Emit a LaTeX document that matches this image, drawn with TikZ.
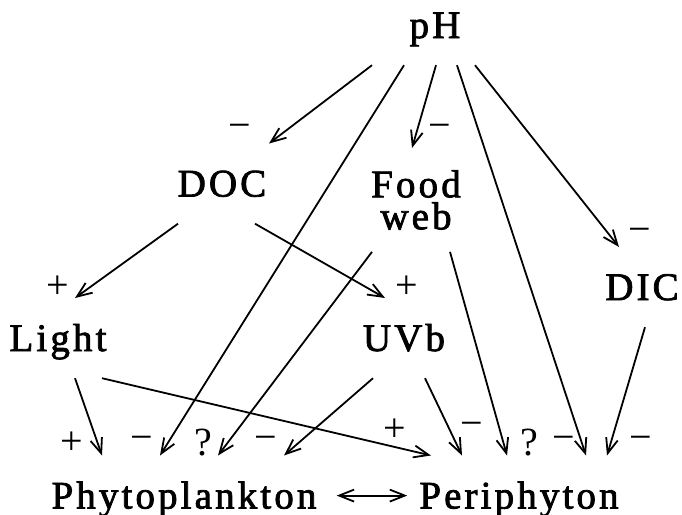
\documentclass[tikz,border=0pt]{standalone}
\usepackage{fontspec}
\setmainfont{Liberation Serif}[LetterSpace=8, FakeBold=2]
\newfontfamily\signfont{Liberation Serif}
\usetikzlibrary{arrows.meta}
\tikzset{
    factor-node/.style = {inner xsep=0pt, inner ysep=27pt, text height=25.8pt, text depth=0pt, anchor=base, font=\fontsize{39}{32}\selectfont},
    food-node/.style = {inner xsep=0pt, inner ysep=22pt, align=center, anchor=north, font=\fontsize{39}{32}\selectfont},
    sign-label/.style = {inner sep=0pt, font=\signfont\fontsize{40}{40}\selectfont},
    effect-arrow/.style = {-{Straight Barb[length=15pt, width=12pt]}, line width=1.8pt},
}

\begin{document}
\begin{tikzpicture}[x=1pt, y=-1pt]
\useasboundingbox (0,0) rectangle (682,514);

\node[factor-node] (ph) at (435,38) {pH};
\node[factor-node] (doc) at (222,196.5) {DOC};
\node[food-node] (food) at (416,148) {Food\\web};
\node[factor-node] (light) at (58,351) {Light};
\node[factor-node] (uvb) at (404,351) {UVb};
\node[factor-node] (dic) at (642,300) {DIC};
\node[factor-node] (phyto) at (184,508.5) {Phytoplankton};
\node[factor-node] (peri) at (519,508.5) {Periphyton};

\draw[effect-arrow] ([xshift=-63pt]ph.south) -- ([xshift=47pt]doc.north);
\draw[effect-arrow] ([xshift=-31pt]ph.south) -- ([xshift=-24pt]phyto.north);
\draw[effect-arrow] ([xshift=1pt]ph.south) -- ([xshift=-4pt]food.north);
\draw[effect-arrow] ([xshift=22pt]ph.south) -- ([xshift=67pt]peri.north);
\draw[effect-arrow] ([xshift=40pt]ph.south) -- ([xshift=-23pt]dic.north);
\draw[effect-arrow] ([xshift=-44pt]doc.south) -- ([xshift=17pt]light.north);
\draw[effect-arrow] ([xshift=33pt]doc.south) -- ([xshift=-19pt]uvb.north);
\draw[effect-arrow] ([xshift=-44pt]food.south) -- ([xshift=34pt]phyto.north);
\draw[effect-arrow] ([xshift=34pt]food.south) -- ([xshift=-12pt]peri.north);
\draw[effect-arrow] ([xshift=17pt]light.south) -- ([xshift=-82pt]phyto.north);
\draw[effect-arrow] ([xshift=44pt]light.south) -- ([xshift=-88pt]peri.north);
\draw[effect-arrow] ([xshift=-31pt]uvb.south) -- ([xshift=100pt]phyto.north);
\draw[effect-arrow] ([xshift=21pt]uvb.south) -- ([xshift=-57pt]peri.north);
\draw[effect-arrow] ([xshift=3pt]dic.south) -- ([xshift=88pt]peri.north);
\draw[effect-arrow, {Straight Barb[length=15pt, width=12pt]}-{Straight Barb[length=15pt, width=12pt]}, shorten <=20pt, shorten >=12pt] (phyto) -- (peri);

\node[sign-label] (s-doc) at (240,131) {−};
\node[sign-label] (s-food) at (440,131) {−};
\node[sign-label] (s-light) at (58,287) {+};
\node[sign-label] (s-uvb) at (407,287) {+};
\node[sign-label] (s-dic) at (640,235) {−};
\node[sign-label] (s-lp) at (72,443) {+};
\node[sign-label] (s-hp) at (142,443) {−};
\node[sign-label] (s-fp) at (203,443) {?};
\node[sign-label] (s-up) at (266,443) {−};
\node[sign-label] (s-lr) at (395,430) {+};
\node[sign-label] (s-ur) at (472,429) {−};
\node[sign-label] (s-fr) at (529,443) {?};
\node[sign-label] (s-hr) at (564,443) {−};
\node[sign-label] (s-dr) at (641,443) {−};
\end{tikzpicture}
\end{document}
